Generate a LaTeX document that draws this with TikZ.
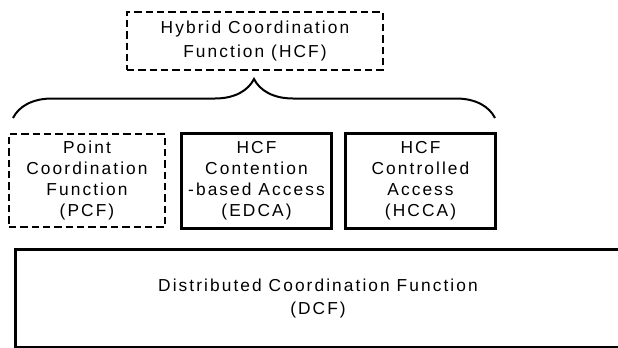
\documentclass[tikz,border=0pt]{standalone}
\usepackage{fontspec}
\setmainfont{Liberation Sans}[LetterSpace=12]
\usetikzlibrary{decorations.pathreplacing,positioning}
\tikzset{funcbox/.style={draw, align=center, inner sep=0pt, font=\fontsize{13pt}{15.75pt}\selectfont}}
\tikzset{dashbox/.style={funcbox, line width=1.7pt, dash pattern=on 5.5pt off 3pt}}
\tikzset{solidbox/.style={funcbox, line width=2.25pt}}
\tikzset{curly/.style={decorate, decoration={brace, amplitude=29.25pt}, line width=1.5pt}}

\begin{document}
\begin{tikzpicture}[x=0.75pt,y=-0.75pt]
      \clip (0,0) rectangle (618,347);
      % upper layer
      \node[dashbox, minimum width=192pt, minimum height=43.5pt,
            font=\fontsize{13pt}{17.5pt}\selectfont] (hcf) at (255,41)
            {Hybrid Coordination\\Function (HCF)};
      \coordinate (bl) at (13,118);
      \coordinate (br) at (495,118);
      \draw[curly] (bl) -- (br);
      % middle row
      \node[dashbox, minimum width=117pt, minimum height=69.75pt] (pcf) at (87,180.5)
            {Point\\Coordination\\Function\\(PCF)};
      \node[solidbox, minimum width=112.5pt, minimum height=71.25pt] (edca) at (256.5,181)
            {HCF\\Contention\\-based Access\\(EDCA)};
      \node[solidbox, minimum width=112.5pt, minimum height=71.25pt] (hcca) at (420.5,181)
            {HCF\\Controlled\\Access\\(HCCA)};
      % base layer, runs off the right edge
      \node[solidbox, minimum width=453.75pt, minimum height=73.5pt,
            font=\fontsize{13pt}{17.5pt}\selectfont] (dcf) at (318,298.5)
            {Distributed Coordination Function\\(DCF)};
    \end{tikzpicture}
\end{document}
